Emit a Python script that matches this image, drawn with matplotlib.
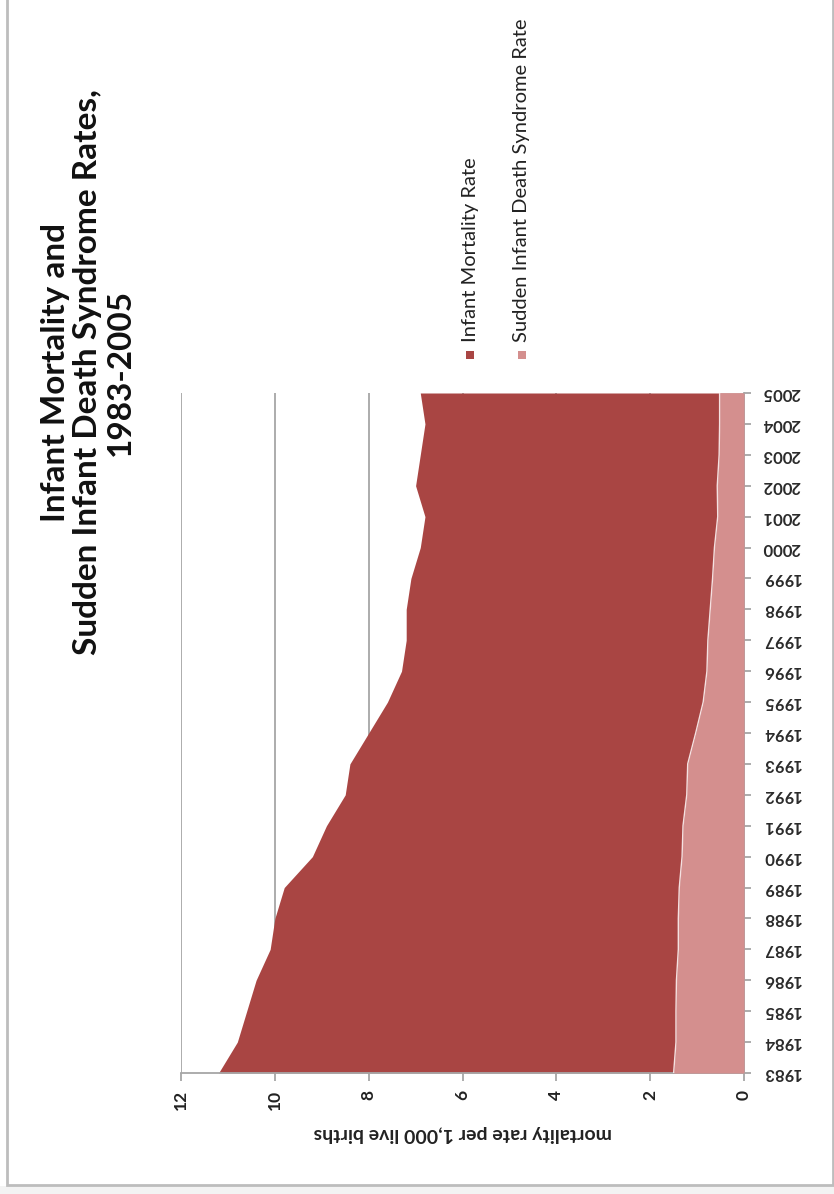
import matplotlib
matplotlib.use("Agg")
import matplotlib.pyplot as plt
from matplotlib.patches import Rectangle

years = list(range(1983, 2006))
infant_mortality = [11.2, 10.8, 10.6, 10.4, 10.1, 10.0, 9.8, 9.2, 8.9, 8.5, 8.4, 8.0,
                    7.6, 7.3, 7.2, 7.2, 7.1, 6.9, 6.8, 7.0, 6.9, 6.8, 6.9]
sids_rate = [1.50, 1.45, 1.45, 1.44, 1.40, 1.40, 1.38, 1.32, 1.30, 1.22, 1.20, 1.03,
             0.87, 0.79, 0.77, 0.72, 0.67, 0.63, 0.56, 0.57, 0.53, 0.52, 0.52]
value_ticks = [0, 2, 4, 6, 8, 10, 12]
series_names = ["Infant Mortality Rate", "Sudden Infant Death Syndrome Rate"]
title = "Infant Mortality and\nSudden Infant Death Syndrome Rates,\n1983-2005"
axis_label = "mortality rate per 1,000 live births"

C_IMR = "#A94543"
C_SIDS = "#D48F8E"
GRID = "#A6A6A6"
FONT = ["Lato", "DejaVu Sans"]

W, H = 834, 1194
fig = plt.figure(figsize=(W / 100, H / 100), dpi=100)
fig.patch.set_facecolor("white")

# page background / frame
fig.add_artist(Rectangle((0, 0), 1, 1 - 1186 / H, transform=fig.transFigure,
                         facecolor="#F3F3F3", edgecolor="none", zorder=0))
fig.add_artist(Rectangle((7 / W, 1 - 1185 / H), (833 - 7) / W, 1185 / H + 0.01,
                         transform=fig.transFigure, facecolor="white",
                         edgecolor="#BDBDBD", linewidth=2, zorder=0.5))

x0, x1 = 181, 744
y0, y1 = 393, 1073
ax = fig.add_axes([x0 / W, 1 - y1 / H, (x1 - x0) / W, (y1 - y0) / H])
ax.set_zorder(5)
ax.set_facecolor("none")

ax.fill_betweenx(years, 0, infant_mortality, color=C_IMR, linewidth=0, zorder=2)
ax.fill_betweenx(years, 0, sids_rate, color=C_SIDS, linewidth=0, zorder=3)
ax.plot(sids_rate, years, color="#F5E1E1", linewidth=1.0, zorder=4)

ax.set_xlim(12, 0)
ax.set_ylim(years[0], years[-1])
ax.set_xticks(value_ticks)
ax.set_xticklabels([str(v) for v in value_ticks], rotation=90, fontsize=12.5,
                   fontweight="bold", family=FONT, color="#222222")
ax.set_yticks(years)
ax.set_yticklabels([str(y) for y in years], rotation=180, fontsize=12,
                   fontweight="bold", family=FONT, color="#2a2a2a", va="center")
ax.yaxis.tick_right()
ax.grid(axis="x", color=GRID, linewidth=1.3, zorder=1)
ax.set_axisbelow(True)
for s in ["top", "left"]:
    ax.spines[s].set_visible(False)
for s in ["right", "bottom"]:
    ax.spines[s].set_color(GRID)
    ax.spines[s].set_linewidth(1.3)
ax.tick_params(axis="x", length=6, color=GRID, width=1.3, pad=6)
ax.tick_params(axis="y", length=5, color=GRID, width=1.3, pad=8)

ax.set_xlabel(axis_label, rotation=180, fontsize=14, fontweight="bold",
              family=FONT, color="#222222", labelpad=11)

# title
fig.text(88 / W, 1 - 372 / H, title, rotation=90, ha="center", va="center",
         fontsize=24, fontweight="bold", family=FONT, color="#111111",
         multialignment="center", linespacing=1.15)

# legend
for i, (name, col) in enumerate(zip(series_names, [C_IMR, C_SIDS])):
    xc = 470 + 52 * i
    fig.add_artist(Rectangle(((xc - 4) / W, 1 - 359 / H), 8 / W, 8 / H,
                             transform=fig.transFigure, facecolor=col,
                             edgecolor="none"))
    fig.text(xc / W, 1 - 342 / H, name, rotation=90, ha="center", va="bottom",
             fontsize=14.5, family=FONT, color="#222222")

fig.savefig("out.png", dpi=100, facecolor="white")
